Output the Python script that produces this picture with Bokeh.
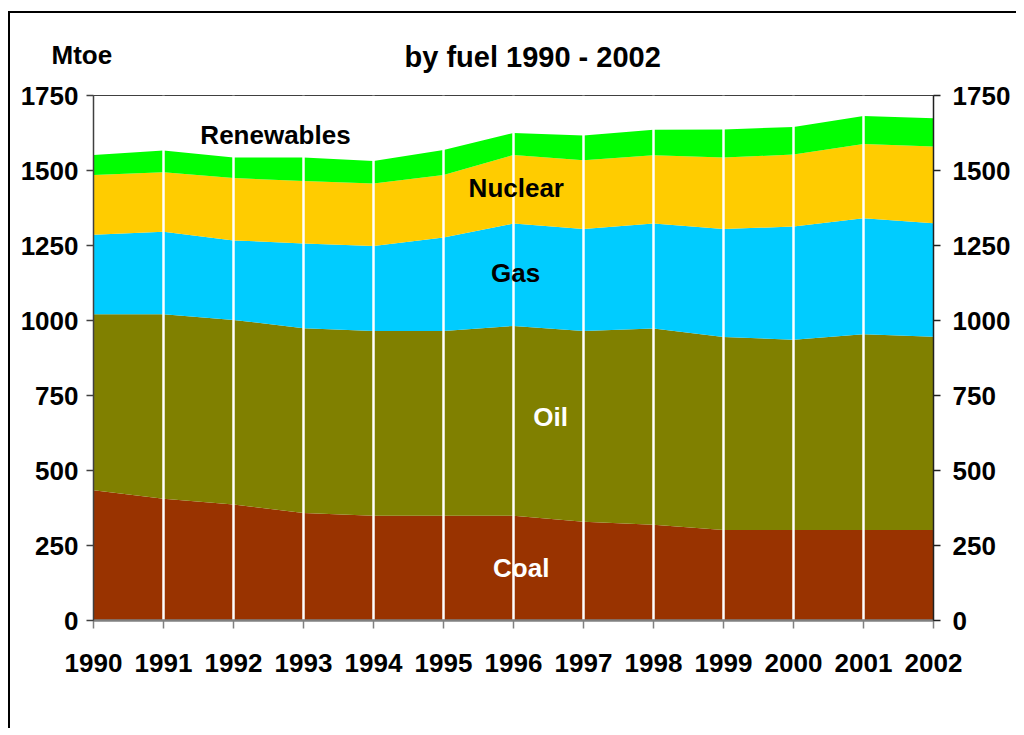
from bokeh.plotting import figure
from bokeh.models import LinearAxis, FixedTicker, Label, Range1d, ColumnDataSource, Title
from bokeh.embed import file_html
from bokeh.resources import INLINE

years = [1990, 1991, 1992, 1993, 1994, 1995, 1996, 1997, 1998, 1999, 2000, 2001, 2002]
coal = [434, 406, 387, 358, 349, 349, 349, 329, 319, 302, 302, 302, 302]
oil = [587, 615, 615, 616, 616, 616, 633, 636, 654, 643, 634, 652, 644]
gas = [265, 275, 265, 283, 283, 312, 341, 340, 350, 360, 377, 387, 378]
nuclear = [199, 198, 208, 208, 209, 208, 229, 229, 228, 238, 240, 247, 256]
renewables = [67, 73, 68, 78, 75, 83, 73, 83, 85, 94, 92, 94, 94]
y_ticks = [0, 250, 500, 750, 1000, 1250, 1500, 1750]
title_text = "by fuel 1990 - 2002"
unit_text = "Mtoe"

series = ["coal", "oil", "gas", "nuclear", "renewables"]
colors = ["#993300", "#808000", "#00CCFF", "#FFCC00", "#00FF00"]

src = ColumnDataSource(dict(year=years, coal=coal, oil=oil, gas=gas,
                            nuclear=nuclear, renewables=renewables))

FONT = "Liberation Sans"

p = figure(frame_width=840, frame_height=525,
           x_range=Range1d(years[0], years[-1]), y_range=Range1d(y_ticks[0], y_ticks[-1]),
           output_backend="svg", toolbar_location=None,
           min_border_left=83, min_border_right=83, min_border_top=82, min_border_bottom=108,
           background_fill_color="white", border_fill_color="white")
p.styles = {"border-left": "2px solid black", "border-top": "2px solid black",
            "margin-left": "8px", "margin-top": "11px"}

# unit text as the outermost title, pulled down onto the same row as the main title
p.title.text = unit_text
p.title.align = "left"
p.title.offset = -42
p.title.standoff = -107
p.title.text_font = FONT
p.title.text_font_style = "bold"
p.title.text_font_size = "26px"
p.title.text_color = "black"

main_title = Title(text=title_text, align="left", offset=311, standoff=45,
                   text_font=FONT, text_font_style="bold", text_font_size="29px",
                   text_color="black")
p.add_layout(main_title, "above")

p.varea_stack(stackers=series, x="year", color=colors, source=src)

# white vertical separators at interior years
inner = years[1:-1]
p.segment(x0=inner, x1=inner, y0=[y_ticks[0]] * len(inner), y1=[y_ticks[-1]] * len(inner),
          line_color="white", line_width=2.5)

p.grid.visible = False
p.outline_line_color = "#404040"
p.outline_line_width = 1

def style_axis(ax, color="#404040", width=1.5):
    ax.major_label_text_font = FONT
    ax.major_label_text_font_style = "bold"
    ax.major_label_text_font_size = "26px"
    ax.major_label_text_color = "black"
    ax.axis_line_color = color
    ax.axis_line_width = width
    ax.major_tick_line_color = color
    ax.major_tick_line_width = 1.5
    ax.major_tick_in = 0
    ax.major_tick_out = 7
    ax.minor_tick_line_color = None

p.yaxis.ticker = FixedTicker(ticks=y_ticks)
style_axis(p.yaxis[0])
p.yaxis.major_label_standoff = 8

ry = LinearAxis(ticker=FixedTicker(ticks=y_ticks))
style_axis(ry, color="#202020")
ry.major_label_standoff = 12
p.add_layout(ry, "right")

p.xaxis.ticker = FixedTicker(ticks=years)
style_axis(p.xaxis[0], color="#808080", width=2.5)
p.xaxis.major_tick_out = 8
p.xaxis.major_label_standoff = 25

def lab(text, x, y, color="black", size="26px", **kw):
    l = Label(text=text, x=x, y=y, text_font=FONT, text_font_style="bold",
              text_font_size=size, text_color=color, text_align="center",
              text_baseline="middle", **kw)
    p.add_layout(l)
    return l

lab("Renewables", 1992.6, 1618)
lab("Nuclear", 1996.04, 1442)
lab("Gas", 1996.03, 1158)
lab("Oil", 1996.53, 678, color="white")
lab("Coal", 1996.11, 175, color="white")

open("out.html", "w").write(file_html(p, INLINE))
